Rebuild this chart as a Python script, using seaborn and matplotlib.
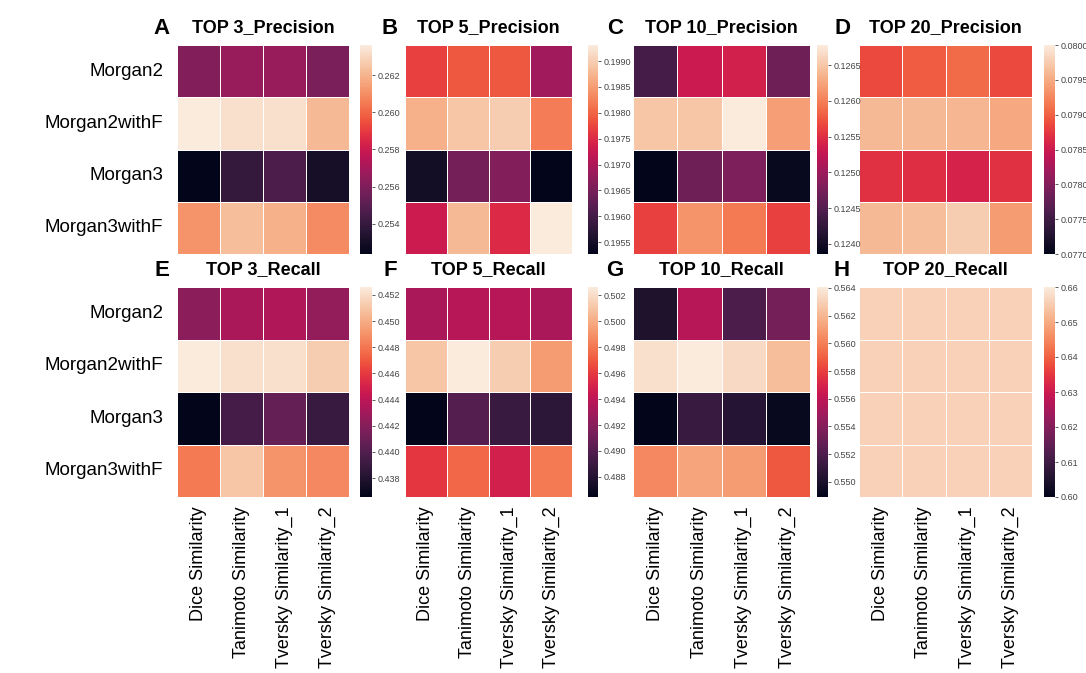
import numpy as np
import pandas as pd
import matplotlib
matplotlib.use("Agg")
import matplotlib.pyplot as plt
import seaborn as sns

sns.set_theme(style="white")
plt.rcParams["font.family"] = ["Liberation Sans", "DejaVu Sans"]
plt.rcParams["text.color"] = "black"
plt.rcParams["xtick.labelcolor"] = "black"
plt.rcParams["ytick.labelcolor"] = "black"

fingerprints = ["Morgan2", "Morgan2withF", "Morgan3", "Morgan3withF"]
similarities = ["Dice Similarity", "Tanimoto Similarity",
                "Tversky Similarity_1", "Tversky Similarity_2"]

top3_precision = [[0.25609, 0.25665, 0.25665, 0.25586],
                  [0.26362, 0.26328, 0.26328, 0.26216],
                  [0.25238, 0.25395, 0.25463, 0.25305],
                  [0.26115, 0.26227, 0.26193, 0.26092]]
top5_precision = [[0.19769, 0.19790, 0.19790, 0.19689],
                  [0.19870, 0.19891, 0.19899, 0.19822],
                  [0.19547, 0.19648, 0.19660, 0.19527],
                  [0.19729, 0.19878, 0.19749, 0.19931]]
top10_precision = [[0.12439, 0.12532, 0.12538, 0.12468],
                   [0.12649, 0.12649, 0.12678, 0.12620],
                   [0.12386, 0.12468, 0.12479, 0.12392],
                   [0.12561, 0.12614, 0.12596, 0.12561]]
top20_precision = [[0.07886, 0.07898, 0.07907, 0.07886],
                   [0.07961, 0.07961, 0.07958, 0.07949],
                   [0.07871, 0.07868, 0.07859, 0.07871],
                   [0.07961, 0.07964, 0.07976, 0.07940]]
top3_recall = [[0.44217, 0.44330, 0.44346, 0.44249],
               [0.45261, 0.45213, 0.45213, 0.45133],
               [0.43655, 0.43944, 0.44073, 0.43896],
               [0.44811, 0.45100, 0.44908, 0.44860]]
top5_recall = [[0.49325, 0.49373, 0.49373, 0.49325],
               [0.50100, 0.50262, 0.50133, 0.49939],
               [0.48646, 0.49002, 0.48888, 0.48840],
               [0.49583, 0.49745, 0.49486, 0.49810]]
top10_recall = [[0.55012, 0.55573, 0.55194, 0.55346],
                [0.56362, 0.56407, 0.56331, 0.56225],
                [0.54891, 0.55118, 0.55043, 0.54921],
                [0.56028, 0.56134, 0.56104, 0.55876]]
top20_recall = [[0.656, 0.656, 0.656, 0.656],
                [0.656, 0.656, 0.656, 0.656],
                [0.656, 0.656, 0.656, 0.656],
                [0.656, 0.656, 0.656, 0.656]]

panels = [
    ("A", "TOP 3_Precision", top3_precision, None),
    ("B", "TOP 5_Precision", top5_precision, None),
    ("C", "TOP 10_Precision", top10_precision, None),
    ("D", "TOP 20_Precision", top20_precision, (0.0770, 0.0800)),
    ("E", "TOP 3_Recall", top3_recall, None),
    ("F", "TOP 5_Recall", top5_recall, None),
    ("G", "TOP 10_Recall", top10_recall, None),
    ("H", "TOP 20_Recall", top20_recall, (0.60, 0.66)),
]

W, H = 1086, 673
fig = plt.figure(figsize=(W / 100, H / 100), dpi=100)

# pixel boxes: heatmap x-range per column, colorbar x-range, y-range per row
heat_x = [(177, 349), (405, 572), (633, 810), (859, 1032)]
cbar_x = [(360, 372), (588, 598), (817, 828), (1044, 1055)]
row_y = [(45, 254), (287, 497)]
letter_x = [162, 390, 615, 842]


def frac_box(x0, x1, y0, y1):
    return [x0 / W, 1 - y1 / H, (x1 - x0) / W, (y1 - y0) / H]


for i, (letter, title, values, lims) in enumerate(panels):
    r, c = divmod(i, 4)
    hx, cx, (y0, y1) = heat_x[c], cbar_x[c], row_y[r]
    ax = fig.add_axes(frac_box(hx[0], hx[1], y0, y1))
    cax = fig.add_axes(frac_box(cx[0], cx[1], y0, y1))
    df = pd.DataFrame(values, index=fingerprints, columns=similarities)
    kw = {}
    if lims is not None:
        kw = dict(vmin=lims[0], vmax=lims[1])
    sns.heatmap(df, ax=ax, cbar_ax=cax, cmap="rocket", linewidths=0.6,
                linecolor="white", **kw)
    cax.tick_params(labelsize=6.5, colors="#444444", labelcolor="#444444",
                    length=2.5, width=0.6, pad=1.5)
    if c == 0:
        ax.set_yticklabels(fingerprints, rotation=0, fontsize=13.5)
        ax.tick_params(axis="y", length=2, pad=8)
    else:
        ax.set_yticks([])
    if r == 1:
        ax.set_xticklabels(similarities, rotation=90, fontsize=13)
        ax.tick_params(axis="x", length=3, pad=4)
    else:
        ax.set_xticks([])
    ax.set_xlabel("")
    ax.set_ylabel("")
    ty = (y0 - 17) / H
    fig.text(letter_x[c] / W, 1 - ty, letter, fontsize=16, fontweight="bold",
             ha="center", va="center")
    fig.text((hx[0] + hx[1]) / 2 / W, 1 - ty, title, fontsize=13,
             fontweight="bold", ha="center", va="center")

# keep colorbar labels above the neighbouring heatmaps
for a in fig.axes[1::2]:
    a.set_zorder(5)

fig.savefig("out.png", dpi=100)
